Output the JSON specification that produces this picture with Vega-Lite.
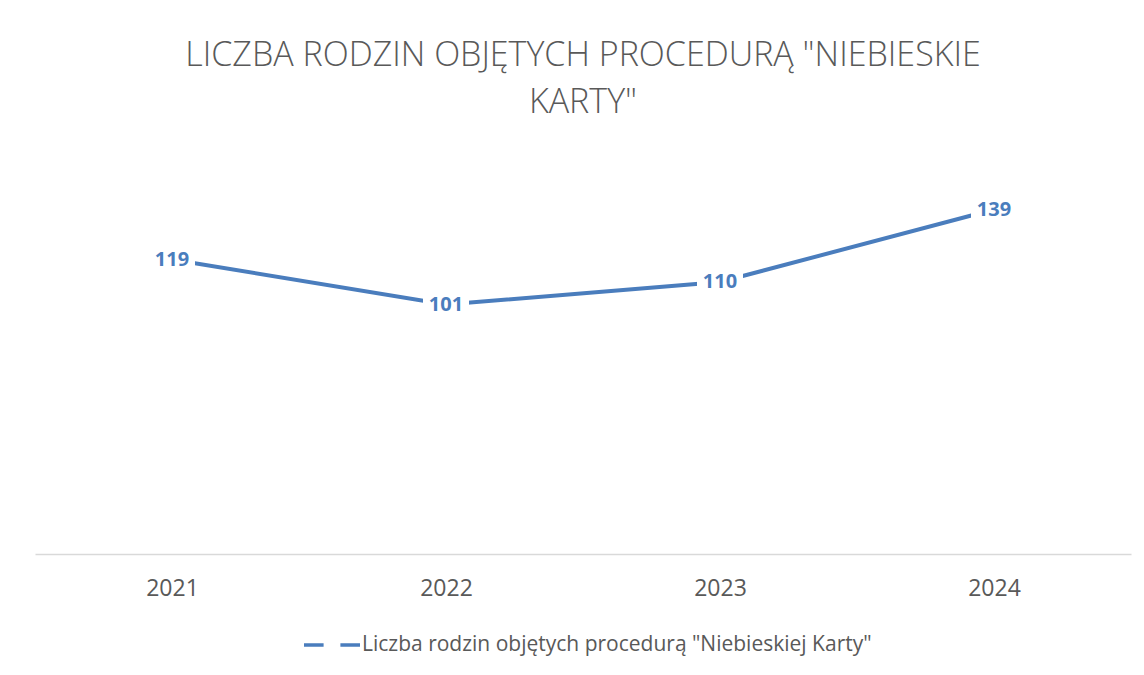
{
  "$schema": "https://vega.github.io/schema/vega-lite/v6.json",
  "width": 1096,
  "height": 400,
  "autosize": {"type": "none"},
  "padding": {"left": 35, "top": 157, "right": 13, "bottom": 118},
  "background": "white",
  "title": {
    "text": ["LICZBA RODZIN OBJĘTYCH PROCEDURĄ \"NIEBIESKIE", "KARTY\""],
    "font": "Open Sans",
    "fontSize": 34,
    "fontWeight": 300,
    "color": "#595959",
    "lineHeight": 47,
    "anchor": "middle",
    "offset": 37
  },
  "data": {
    "values": [
      {"year": "2021", "value": 119, "series": "Liczba rodzin objętych procedurą \"Niebieskiej Karty\""},
      {"year": "2022", "value": 101, "series": "Liczba rodzin objętych procedurą \"Niebieskiej Karty\""},
      {"year": "2023", "value": 110, "series": "Liczba rodzin objętych procedurą \"Niebieskiej Karty\""},
      {"year": "2024", "value": 139, "series": "Liczba rodzin objętych procedurą \"Niebieskiej Karty\""}
    ]
  },
  "encoding": {
    "x": {
      "field": "year",
      "type": "ordinal",
      "scale": {"type": "point", "padding": 0.5},
      "axis": {
        "title": null,
        "labelAngle": 0,
        "labelFont": "Open Sans",
        "labelFontSize": 23,
        "labelColor": "#595959",
        "labelPadding": 23,
        "ticks": false,
        "domainColor": "#d9d9d9",
        "domainWidth": 1.5,
        "offset": -3,
        "grid": false
      }
    },
    "y": {
      "field": "value",
      "type": "quantitative",
      "scale": {"domain": [0, 160]},
      "axis": null
    }
  },
  "layer": [
    {
      "mark": {"type": "line", "strokeWidth": 4},
      "encoding": {
        "color": {
          "field": "series",
          "type": "nominal",
          "scale": {"range": ["#4a7dbd"]},
          "legend": {
            "title": null,
            "orient": "none",
            "legendX": 267,
            "legendY": 458,
            "padding": 0,
            "symbolType": "M-1,0L-0.3,0M0.3,0L1,0",
            "symbolSize": 3136,
            "symbolStrokeWidth": 3.5,
            "labelFont": "Open Sans",
            "labelFontSize": 21,
            "labelColor": "#595959",
            "labelOffset": 0,
            "labelLimit": 800
          }
        }
      }
    },
    {
      "mark": {
        "type": "point",
        "shape": "M-2.3,-1L2.3,-1L2.3,1L-2.3,1Z",
        "size": 400,
        "filled": true,
        "fill": "white",
        "opacity": 1,
        "strokeWidth": 0
      }
    },
    {
      "mark": {
        "type": "text",
        "font": "Open Sans",
        "fontSize": 20,
        "fontWeight": "bold",
        "color": "#4a7dbd",
        "baseline": "middle",
        "align": "center"
      },
      "encoding": {"text": {"field": "value", "type": "quantitative"}}
    }
  ],
  "config": {
    "view": {"stroke": null}
  }
}
